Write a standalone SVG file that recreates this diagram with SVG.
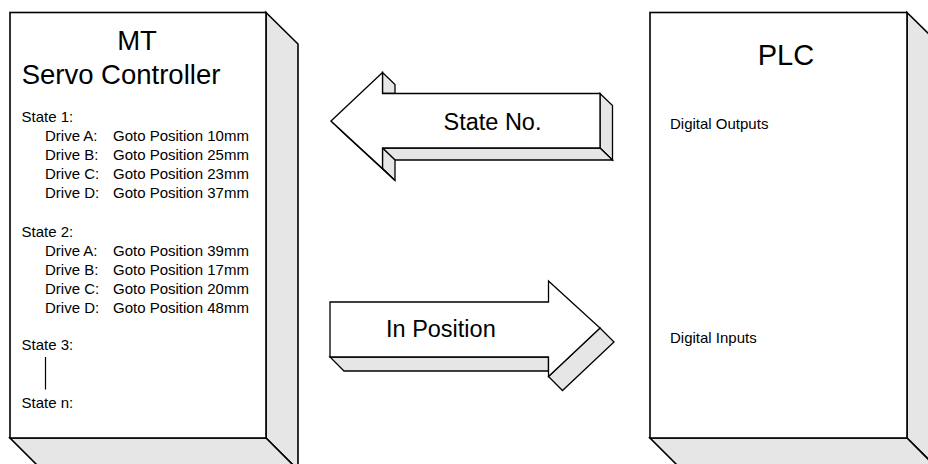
<svg xmlns="http://www.w3.org/2000/svg" width="928" height="464" viewBox="0 0 928 464">
<style>
.front{fill:#ffffff;stroke:#000;stroke-width:1.6;stroke-linejoin:miter}
.side{fill:#e6e6e6;stroke:#000;stroke-width:1.6;stroke-linejoin:miter}
.afront{fill:#ffffff;stroke:#000;stroke-width:1.3;stroke-linejoin:miter}
.aside{fill:#e6e6e6;stroke:#000;stroke-width:1.3;stroke-linejoin:miter}
text{font-family:"Liberation Sans",Arial,sans-serif;fill:#000}
.title{font-size:27.5px}
.plc{font-size:29px}
.small{font-size:15px}
.label{font-size:23.5px}
</style>
<rect width="928" height="464" fill="#ffffff"/>
<g id="mt-servo-controller">
  <polygon class="side" points="266,12.5 298,44 298,470 266,438"/>
  <polygon class="side" points="10,438 266,438 298,470 42,470"/>
  <rect class="front" x="10" y="12.5" width="256" height="425.5"/>
  <text class="title" x="137" y="50" text-anchor="middle">MT</text>
  <text class="title" x="121" y="84" text-anchor="middle">Servo Controller</text>
  <g>
    <text class="small" x="21.5" y="122">State 1:</text>
    <text class="small" x="45" y="141">Drive A:</text><text class="small" x="113" y="141">Goto Position 10mm</text>
    <text class="small" x="45" y="160">Drive B:</text><text class="small" x="113" y="160">Goto Position 25mm</text>
    <text class="small" x="45" y="179">Drive C:</text><text class="small" x="113" y="179">Goto Position 23mm</text>
    <text class="small" x="45" y="198">Drive D:</text><text class="small" x="113" y="198">Goto Position 37mm</text>
    <text class="small" x="21.5" y="237">State 2:</text>
    <text class="small" x="45" y="256">Drive A:</text><text class="small" x="113" y="256">Goto Position 39mm</text>
    <text class="small" x="45" y="275">Drive B:</text><text class="small" x="113" y="275">Goto Position 17mm</text>
    <text class="small" x="45" y="294">Drive C:</text><text class="small" x="113" y="294">Goto Position 20mm</text>
    <text class="small" x="45" y="313">Drive D:</text><text class="small" x="113" y="313">Goto Position 48mm</text>
    <text class="small" x="21.5" y="350">State 3:</text>
    <text class="small" x="21.5" y="408">State n:</text>
  </g>
  <line x1="45.5" y1="357" x2="45.5" y2="389.5" stroke="#000" stroke-width="1.2"/>
</g>
<g id="plc">
  <polygon class="side" points="907,12.5 939,44 939,470 907,438"/>
  <polygon class="side" points="650,438 907,438 939,470 682,470"/>
  <rect class="front" x="650" y="12.5" width="257" height="425.5"/>
  <text class="plc" x="786" y="65" text-anchor="middle">PLC</text>
  <text class="small" x="670" y="129">Digital Outputs</text>
  <text class="small" x="670" y="343">Digital Inputs</text>
</g>
<g id="connectors">
  <g id="arrow-state-no">
    <polygon class="aside" points="382.5,72.5 395,84.5 395,93.5 382.5,93.5"/>
    <polygon class="aside" points="600,93.5 612.5,105.5 612.5,160 600,148"/>
    <polygon class="aside" points="382.5,148 600,148 612.5,160 395,160"/>
    <polygon class="aside" points="382.5,148 395,160 395,180.5 382.5,168.5"/>
    <polygon class="aside" points="331,121 343.5,133 395,180.5 382.5,168.5"/>
    <polygon class="afront" points="331,121 382.5,72.5 382.5,93.5 600,93.5 600,148 382.5,148 382.5,168.5"/>
    <text class="label" x="443.5" y="130">State No.</text>
  </g>
  <g id="arrow-in-position">
    <polygon class="aside" points="330,357 548.5,357 548.5,371 344,371"/>
    <polygon class="aside" points="600,328 614,342 562.5,390.5 548.5,376.5"/>
    <polygon class="afront" points="330,302 548.5,302 548.5,281 600,328 548.5,376.5 548.5,357 330,357"/>
    <text class="label" x="386" y="337">In Position</text>
  </g>
</g>
</svg>
